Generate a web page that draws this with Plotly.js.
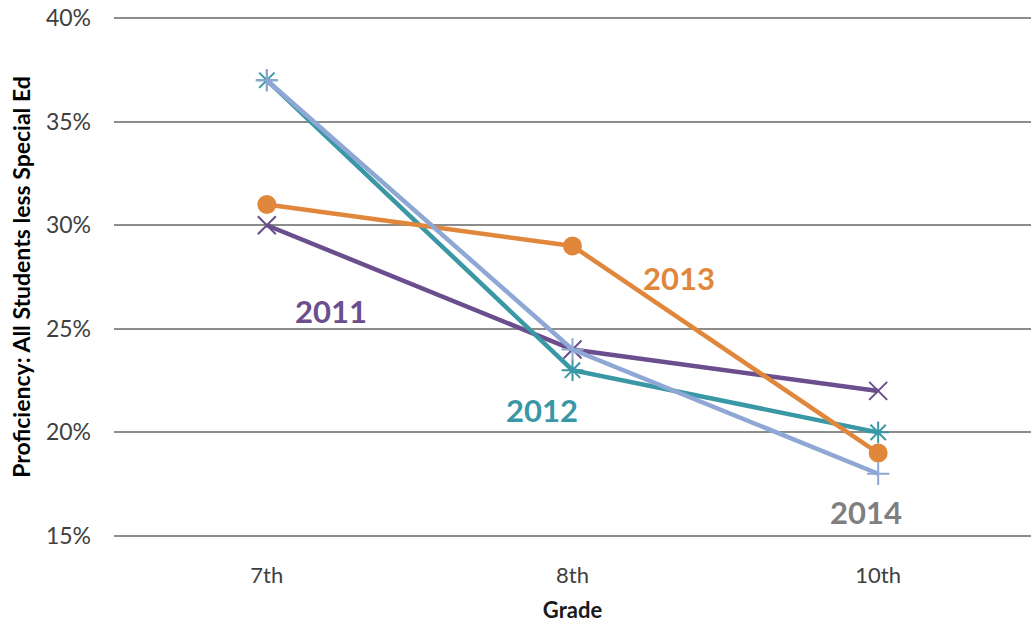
<!DOCTYPE html>
<html><head><meta charset="utf-8">
<script src="https://cdn.plot.ly/plotly-3.0.1.min.js"></script>
<style>body{margin:0;background:#fff}#c{width:1034px;height:628px}</style>
</head><body><div id="c"></div>
<script>
const grades = ["7th", "8th", "10th"];
const seriesNames = ["2011", "2012", "2013", "2014"];
const v2011 = [0.30, 0.24, 0.22];
const v2012 = [0.37, 0.23, 0.20];
const v2013 = [0.31, 0.29, 0.19];
const v2014 = [0.37, 0.24, 0.18];
const yTicks = [0.15, 0.20, 0.25, 0.30, 0.35, 0.40];

const colors = ["#6B4E8E", "#3A97A5", "#E0873C", "#8FA7D4"];
const symbols = ["x-thin-open", "asterisk-open", "circle", "cross-thin-open"];
const sizes = [18, 18, 17, 16];
const vals = [v2011, v2012, v2013, v2014];
const FONT = "Lato, 'Open Sans', sans-serif";

const traces = vals.map((v, i) => ({
  type: "scatter", mode: "lines+markers", name: seriesNames[i],
  x: grades, y: v,
  line: {color: colors[i], width: 4.5},
  marker: {symbol: symbols[i], size: sizes[i], color: colors[i],
           line: {color: colors[i], width: 2}}
}));

const labelColors = ["#6B4E8E", "#3A97A5", "#E0873C", "#7F7F7F"];
const labelPos = [[0.21, 0.2585], [0.9, 0.211], [1.35, 0.2745], [1.96, 0.1615]];
const annotations = seriesNames.map((n, i) => ({
  text: "<b>" + n + "</b>", x: labelPos[i][0], y: labelPos[i][1],
  xref: "x", yref: "y", showarrow: false,
  font: {family: FONT, size: 31, color: labelColors[i]}
}));

const layout = {
  width: 1034, height: 628,
  margin: {l: 114, r: 3, t: 15, b: 89},
  paper_bgcolor: "#fff", plot_bgcolor: "#fff",
  showlegend: false,
  font: {family: FONT, color: "#404040"},
  xaxis: {
    type: "category", range: [-0.5, 2.5],
    showgrid: false, zeroline: false, showline: false, ticks: "",
    ticklabelstandoff: 21,
    tickfont: {family: FONT, size: 22, color: "#404040"},
    title: {text: "<b>Grade</b>", font: {family: FONT, size: 22, color: "#1a1a1a"}, standoff: 15}
  },
  yaxis: {
    range: [0.1485, 0.4015], tickvals: yTicks, tickformat: ".0%",
    showgrid: true, gridcolor: "#8C8C8C", gridwidth: 1.5, zeroline: false,
    showline: false, ticks: "", ticklabelstandoff: 22,
    tickfont: {family: FONT, size: 23, color: "#404040"},
    title: {text: "<b>Proficiency: All Students less Special Ed</b>", font: {family: FONT, size: 23, color: "#000"}, standoff: 8}
  },
  annotations: annotations
};
Plotly.newPlot("c", traces, layout, {displayModeBar: false});
</script></body></html>
